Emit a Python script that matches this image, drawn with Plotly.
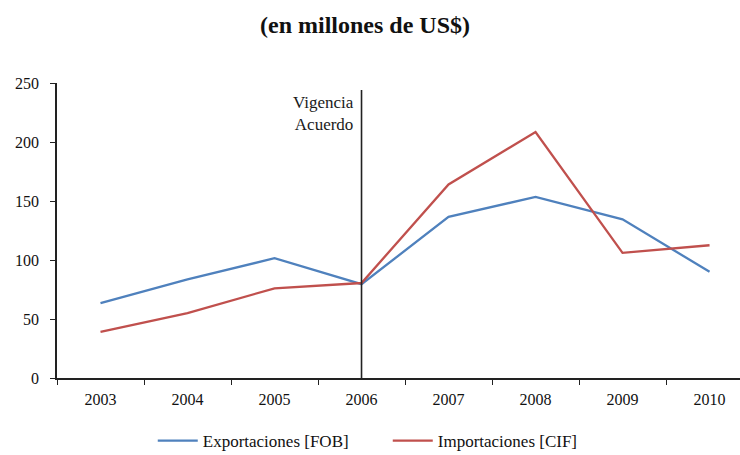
import plotly.graph_objects as go

years = ["2003", "2004", "2005", "2006", "2007", "2008", "2009", "2010"]
exportaciones = [63.5, 83.5, 101.5, 79.5, 136.5, 153.5, 134.5, 90]
importaciones = [39, 55, 76, 80.5, 164, 208.5, 106, 112.5]
y_ticks = [0, 50, 100, 150, 200, 250]
title_text = "(en millones de US$)"
names = ["Exportaciones [FOB]", "Importaciones [CIF]"]
marker_year = "2006"
marker_label = "Vigencia<br>Acuerdo"

FONT = "Liberation Serif"
marker_idx = years.index(marker_year)

fig = go.Figure()
fig.add_trace(go.Scatter(x=years, y=exportaciones, mode="lines", name=names[0],
                         line=dict(color="#4F81BD", width=2.3)))
fig.add_trace(go.Scatter(x=years, y=importaciones, mode="lines", name=names[1],
                         line=dict(color="#C0504D", width=2.3)))

fig.add_shape(type="line", xref="x", yref="y", x0=marker_idx, x1=marker_idx,
              y0=0, y1=244, line=dict(color="#222222", width=1.6))
fig.add_annotation(x=marker_idx, y=224.5, xref="x", yref="y", text=marker_label,
                   showarrow=False, xanchor="right", yanchor="middle", xshift=-6,
                   align="right", font=dict(family=FONT, size=17, color="#1a1a1a"))

fig.update_layout(
    width=740, height=455,
    margin=dict(l=57, r=0, t=83, b=77),
    paper_bgcolor="white", plot_bgcolor="white",
    title=dict(text="<b>" + title_text + "</b>", x=365 / 740, xref="container",
               xanchor="center",
               y=1 - 25 / 455, yref="container", yanchor="middle",
               font=dict(family=FONT, size=24, color="#111111")),
    font=dict(family=FONT, size=16, color="#111111"),
    showlegend=True,
    legend=dict(orientation="h", xref="container", yref="container",
                x=0.524, xanchor="center", y=1 - 441 / 455, yanchor="middle",
                font=dict(family=FONT, size=17, color="#111111"),
                itemwidth=40, entrywidth=180, entrywidthmode="pixels"),
    xaxis=dict(type="category", range=[-0.5, 7.35], tickson="boundaries",
               ticks="outside", ticklen=5, tickcolor="#222222",
               showline=True, linecolor="#222222", linewidth=1.5,
               showgrid=False, zeroline=False, ticklabelstandoff=6,
               tickfont=dict(family=FONT, size=16, color="#111111")),
    yaxis=dict(range=[0, 250], tickvals=y_ticks, ticks="outside", ticklen=5,
               tickcolor="#222222", showline=True, linecolor="#222222",
               linewidth=1.5, showgrid=False, zeroline=False,
               ticklabelstandoff=8,
               tickfont=dict(family=FONT, size=16, color="#111111")),
)

fig.write_html("out.html", config={"displayModeBar": False},
               post_script="document.body.style.margin='0';")
